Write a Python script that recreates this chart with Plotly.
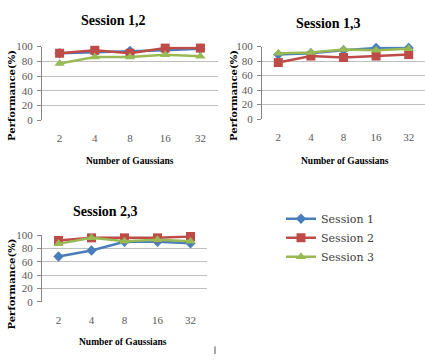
import plotly.graph_objects as go

gaussians = ["2", "4", "8", "16", "32"]
series_names = ["Session 1", "Session 2", "Session 3"]

# Panel "Session 1,2"
p12_s1 = [91, 92, 94, 95, 97]
p12_s2 = [91, 95, 91, 98, 98]
p12_s3 = [77, 86, 86, 89, 87]

# Panel "Session 1,3"
p13_s1 = [89, 91, 95, 98, 98]
p13_s2 = [78, 87, 85, 87, 89]
p13_s3 = [91, 92, 96, 95, 97]

# Panel "Session 2,3"
p23_s1 = [68, 77, 90, 90, 88]
p23_s2 = [92, 96, 96, 96, 98]
p23_s3 = [87, 96, 91, 93, 91]

y_ticks = [0, 20, 40, 60, 80, 100]

panel_titles = ["Session 1,2", "Session 1,3", "Session 2,3"]
x_title = "Number of Gaussians"
y_title = "Performance(%)"

colors = ["#4A7EBB", "#BE4B48", "#98B954"]
symbols = ["diamond", "square", "triangle-up"]
msizes = [8, 9, 9]

W, H = 425, 364
fig = go.Figure()

panels = [
    ([p12_s1, p12_s2, p12_s3], "x", "y"),
    ([p13_s1, p13_s2, p13_s3], "x2", "y2"),
    ([p23_s1, p23_s2, p23_s3], "x3", "y3"),
]
for pi, (vals, xa, ya) in enumerate(panels):
    for si, v in enumerate(vals):
        fig.add_trace(go.Scatter(
            x=gaussians, y=v, xaxis=xa, yaxis=ya,
            mode="lines+markers", name=series_names[si],
            legendgroup=series_names[si], showlegend=(pi == 0),
            line=dict(color=colors[si], width=2.5),
            marker=dict(symbol=symbols[si], size=msizes[si], color=colors[si]),
            cliponaxis=False,
        ))

def px(x0, x1):
    return [x0 / W, x1 / W]

def py(top, bottom):
    return [1 - bottom / H, 1 - top / H]

tickfont = dict(family="Liberation Serif", size=11, color="#595959")
xcommon = dict(type="category", range=[-0.5, 4.5], showgrid=False, zeroline=False,
               showline=False, ticks="", tickfont=tickfont, ticklabelstandoff=10,
               fixedrange=True)
ycommon = dict(range=[0, 100], tickvals=y_ticks, showgrid=True, gridcolor="#BFBFBF",
               gridwidth=1, zeroline=False, showline=True, linecolor="#868686",
               ticks="outside", ticklen=4, tickcolor="#868686", tickfont=tickfont,
               ticklabelstandoff=2, fixedrange=True)

fig.update_layout(
    width=W, height=H,
    margin=dict(l=0, r=0, t=0, b=0),
    paper_bgcolor="white", plot_bgcolor="white",
    xaxis=dict(domain=px(42, 218), anchor="y", **xcommon),
    yaxis=dict(domain=py(42, 118), anchor="x", **ycommon),
    xaxis2=dict(domain=px(262, 425), anchor="y2", **xcommon),
    yaxis2=dict(domain=py(42, 117), anchor="x2", **ycommon),
    xaxis3=dict(domain=px(42, 207), anchor="y3", **xcommon),
    yaxis3=dict(domain=py(237, 306), anchor="x3", **ycommon),
    showlegend=True,
    legend=dict(x=281 / W, y=1 - 205 / H, xanchor="left", yanchor="top",
                font=dict(family="DejaVu Serif", size=11, color="#404040"),
                bgcolor="rgba(0,0,0,0)", tracegroupgap=0, itemwidth=30),
)

title_font = dict(family="Liberation Serif", size=14, color="#000000")
xt_font = dict(family="Liberation Serif", size=9.5, color="#000000")
yt_font = dict(family="DejaVu Serif", size=10, color="#000000")

title_pos = [(113, 15), (328, 18), (105, 213)]
xt_pos = [(130, 160), (345, 160), (123, 347)]
yt_pos = [(12, 93), (234, 92), (12, 288)]

for i in range(3):
    tx, ty = title_pos[i]
    fig.add_annotation(x=tx / W, y=1 - ty / H, xref="paper", yref="paper",
                       text="<b>" + panel_titles[i] + "</b>", showarrow=False,
                       font=title_font, xanchor="center", yanchor="middle")
    ax, ay = xt_pos[i]
    fig.add_annotation(x=ax / W, y=1 - ay / H, xref="paper", yref="paper",
                       text="<b>" + x_title + "</b>", showarrow=False,
                       font=xt_font, xanchor="center", yanchor="middle")
    bx, by = yt_pos[i]
    fig.add_annotation(x=bx / W, y=1 - by / H, xref="paper", yref="paper",
                       text="<b>" + y_title + "</b>", showarrow=False, textangle=-90,
                       font=yt_font, xanchor="center", yanchor="middle")

# small stray mark near bottom centre
fig.add_shape(type="line", xref="paper", yref="paper",
              x0=215 / W, x1=215 / W, y0=1 - 360 / H, y1=1 - 352 / H,
              line=dict(color="#555555", width=1))

fig.write_html("out.html",
               config={"displayModeBar": False},
               post_script="document.body.style.margin='0';document.body.style.overflow='hidden';")
